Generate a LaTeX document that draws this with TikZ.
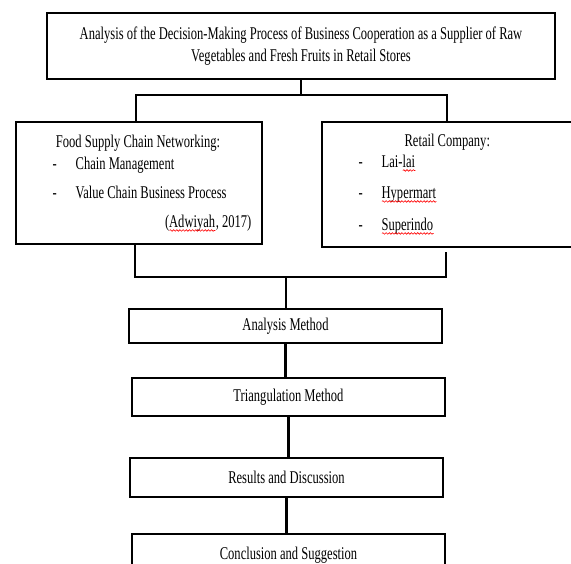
\documentclass[tikz,border=0pt]{standalone}
\usepackage{fontspec}
\setmainfont[FakeStretch=0.7]{Liberation Serif}
\usepackage{xcolor}
\usepackage{tkz-euclide}
\usetikzlibrary{arrows, calc, decorations.pathmorphing}

\newsavebox{\wavebox}
\newlength{\wavelen}
\newcommand{\spellwave}[1]{\sbox{\wavebox}{#1}\setlength{\wavelen}{\wd\wavebox}%
    \rlap{\usebox{\wavebox}}\tikz[baseline=0pt]\draw[red, line width=0.35pt, decorate,
    decoration={snake, amplitude=0.45pt, segment length=1.8pt}] (0,-1.8pt) -- (\wavelen,-1.8pt);}
\newcommand{\dashitem}[1]{\makebox[0.46cm][l]{-}#1}

\begin{document}
\begin{tikzpicture}[box/.style={draw, line width=0.8pt, inner sep=0pt},
    txt/.style={inner sep=0pt},
    link/.style={line width=1.3pt},
    branch/.style={line width=1.6pt},
    font=\fontsize{10.2}{12.5}\selectfont]
    \useasboundingbox (0,0) rectangle (11.42,-11.28);
    \node[box, minimum width=10.16cm, minimum height=1.32cm, align=center] (title) at (6.02,-0.92)
        {Analysis of the Decision-Making Process of Business Cooperation as a Supplier of Raw\\
        Vegetables and Fresh Fruits in Retail Stores};
    \node[box, minimum width=4.92cm, minimum height=2.44cm] (food) at (2.78,-3.66) {};
    \node[txt, anchor=base] (foodhead) at ($(food.north)+(-0.02,-0.52)$) {Food Supply Chain Networking:};
    \node[txt, anchor=base west] (chain) at ($(food.north west)+(0.74,-0.96)$) {\dashitem{Chain Management}};
    \node[txt, anchor=base west] (value) at ($(food.north west)+(0.74,-1.54)$) {\dashitem{Value Chain Business Process}};
    \node[txt, anchor=base east] (source) at ($(food.north east)+(-0.22,-2.12)$) {(\spellwave{Adwiyah}, 2017)};
    \node[box, minimum width=5.20cm, minimum height=2.50cm] (retail) at (9.04,-3.69) {};
    \node[txt, anchor=base] (retailhead) at ($(retail.north west)+(2.52,-0.50)$) {Retail Company:};
    \node[txt, anchor=base west] (lailai) at ($(retail.north west)+(0.74,-0.92)$) {\dashitem{Lai-\spellwave{lai}}};
    \node[txt, anchor=base west] (hyper) at ($(retail.north west)+(0.74,-1.54)$) {\dashitem{\spellwave{Hypermart}}};
    \node[txt, anchor=base west] (super) at ($(retail.north west)+(0.74,-2.18)$) {\dashitem{\spellwave{Superindo}}};
    \node[box, minimum width=6.26cm, minimum height=0.68cm] (analysis) at (5.71,-6.52) {Analysis Method};
    \node[box, minimum width=6.26cm, minimum height=0.76cm] (triang) at (5.77,-7.94) {Triangulation Method};
    \node[box, minimum width=6.26cm, minimum height=0.78cm] (results) at (5.73,-9.55) {Results and Discussion};
    \node[box, minimum width=6.26cm, minimum height=0.84cm] (concl) at (5.77,-11.10) {Conclusion and Suggestion};
    \tkzDefPoint(6.02,-1.90){t_1}
    \tkzDefPoint(2.72,-1.90){t_2}
    \tkzDefPoint(8.94,-1.90){t_3}
    \tkzDefPoint(2.70,-5.54){m_1}
    \tkzDefPoint(8.92,-5.54){m_2}
    \tkzDefPoint(5.72,-5.54){m_3}
    \draw[branch] (title.south) -- (t_1);
    \draw[branch] (t_2 |- food.north) -- (t_2) -- (t_3) -- (t_3 |- retail.north);
    \draw[branch] (m_1 |- food.south) -- (m_1) -- (m_2) -- ($(m_2 |- retail.south)+(0,-0.08)$);
    \draw[link] (m_3) -- (m_3 |- analysis.north);
    \draw[link] (analysis.south) -- (analysis.south |- triang.north);
    \draw[link] (triang.south) -- (triang.south |- results.north);
    \draw[link] (results.south) -- (results.south |- concl.north);
	\end{tikzpicture}
\end{document}
